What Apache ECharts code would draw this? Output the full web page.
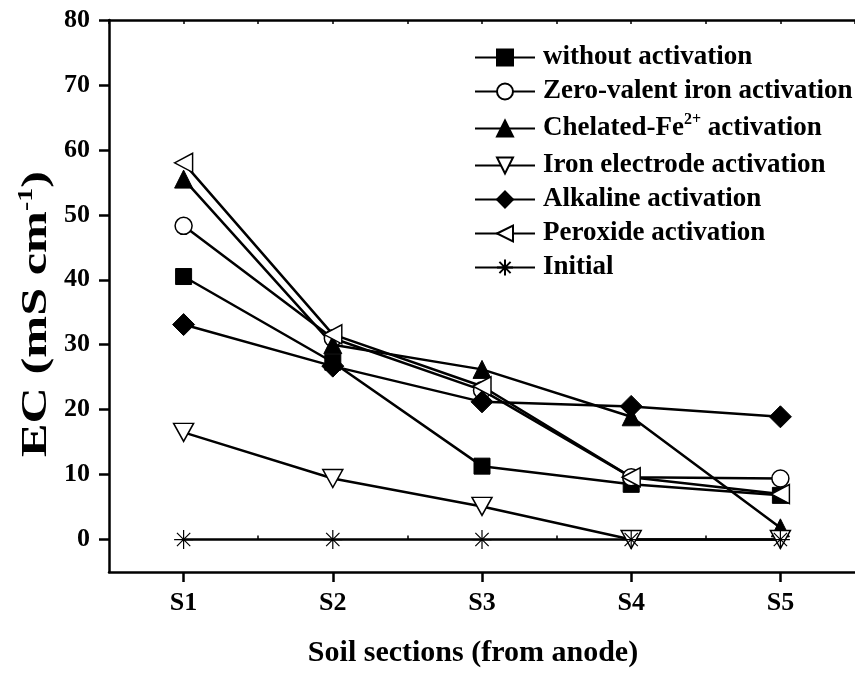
<!DOCTYPE html>
<html>
<head>
<meta charset="utf-8">
<script src="https://cdn.jsdelivr.net/npm/echarts@6/dist/echarts.min.js"></script>
<style>
html,body{margin:0;padding:0;background:#fff;}
#chart{width:855px;height:673px;}
</style>
</head>
<body>
<div id="chart"></div>
<script>
const categories = ['S1', 'S2', 'S3', 'S4', 'S5'];
const yTicks = [0, 10, 20, 30, 40, 50, 60, 70, 80];
const withoutActivation = [40.5, 27.3, 11.3, 8.5, 6.8];
const zeroValent = [48.3, 31.0, 23.0, 9.6, 9.4];
const chelatedFe = [55.5, 30.0, 26.2, 18.9, 1.8];
const ironElectrode = [16.5, 9.4, 5.1, 0.0, 0.0];
const alkaline = [33.1, 26.7, 21.2, 20.5, 18.9];
const peroxide = [58.0, 31.6, 23.6, 9.6, 7.0];
const initial = [0, 0, 0, 0, 0];
const yTitleMain = 'EC (mS cm';
const yTitleSup = '-1';
const yTitleEnd = ')';

const FONT = '"Liberation Serif", "Times New Roman", serif';
const xPos = categories.map((c, i) => i + 1);
const halfPos = [1.5, 2.5, 3.5, 4.5];
const toPairs = arr => arr.map((v, i) => [xPos[i], v]);

const filled = { color: '#000', borderColor: '#000', borderWidth: 1 };
const open = { color: '#fff', borderColor: '#000', borderWidth: 1.5 };
const lineStyle = { color: '#000', width: 2.5 };

const seriesDefs = [
  { name: 'without activation', data: withoutActivation, symbol: 'rect', symbolSize: 16, itemStyle: filled },
  { name: 'Zero-valent iron activation', data: zeroValent, symbol: 'circle', symbolSize: 17, itemStyle: open },
  { name: 'Chelated-Fe2+ activation', data: chelatedFe, symbol: 'triangle', symbolSize: 18, itemStyle: filled },
  { name: 'Iron electrode activation', data: ironElectrode, symbol: 'path://M0,0L20,0L10,18Z', symbolSize: [20, 18], itemStyle: open },
  { name: 'Alkaline activation', data: alkaline, symbol: 'diamond', symbolSize: 22, itemStyle: filled },
  { name: 'Peroxide activation', data: peroxide, symbol: 'path://M0,9L18,0L18,18Z', symbolSize: [18, 19], itemStyle: open },
  { name: 'Initial', data: initial, symbol: 'path://M10,0L10,20M0,10L20,10M3,3L17,17M3,17L17,3', symbolSize: 19, itemStyle: { color: 'none', borderColor: '#000', borderWidth: 1.2 } }
];

// y title: measure natural width so it can be stretched to the span of the reference
const Y_FS = 36, Y_SUP_FS = 20, Y_SPAN = 286;
const mctx = document.createElement('canvas').getContext('2d');
mctx.font = 'bold ' + Y_FS + 'px ' + FONT;
let natW = mctx.measureText(yTitleMain + yTitleEnd).width;
mctx.font = 'bold ' + Y_SUP_FS + 'px ' + FONT;
natW += mctx.measureText(yTitleSup).width;
const yScale = Y_SPAN / natW;

const chart = echarts.init(document.getElementById('chart'), null, { renderer: 'canvas' });

const option = {
  backgroundColor: '#fff',
  animation: false,
  textStyle: { fontFamily: FONT },
  grid: { left: 109, top: 20, width: 754, height: 555 },
  legend: {
    orient: 'vertical',
    left: 474,
    top: 44,
    padding: 0,
    itemWidth: 60,
    itemHeight: 20,
    itemGap: 7,
    data: seriesDefs.map(s => s.name),
    formatter: name => name === 'Chelated-Fe2+ activation' ? '{nc|Chelated-Fe}{sup|2+}{nc| activation}' : '{n|' + name + '}',
    textStyle: {
      fontFamily: FONT, fontWeight: 'bold', fontSize: 27, color: '#000', lineHeight: 27, padding: [0, 0, 0, 3],
      rich: {
        n: { fontFamily: FONT, fontWeight: 'bold', fontSize: 27, color: '#000', lineHeight: 27 },
        nc: { fontFamily: FONT, fontWeight: 'bold', fontSize: 27, color: '#000', lineHeight: 33 },
        sup: { fontFamily: FONT, fontWeight: 'bold', fontSize: 16, color: '#000', lineHeight: 16, verticalAlign: 'top' }
      }
    }
  },
  graphic: [{
    type: 'text',
    x: 37, y: 314,
    rotation: Math.PI / 2,
    scaleX: yScale,
    silent: true,
    style: {
      text: yTitleMain + '{sup|' + yTitleSup + '}' + yTitleEnd,
      fontFamily: FONT, fontWeight: 'bold', fontSize: Y_FS, fill: '#000',
      align: 'center', verticalAlign: 'middle', lineHeight: 40,
      rich: {
        sup: { fontFamily: FONT, fontWeight: 'bold', fontSize: Y_SUP_FS, fill: '#000', lineHeight: 20, verticalAlign: 'top' }
      }
    }
  }],
  xAxis: [
    {
      type: 'value', position: 'bottom', min: 0.5, max: 5.5, interval: 0.5,
      axisLine: { show: true, onZero: false, lineStyle: { color: '#000', width: 2.5 } },
      axisTick: { show: true, customValues: xPos, length: 10, inside: false, lineStyle: { color: '#000', width: 2.5 } },
      axisLabel: {
        customValues: xPos, margin: 18, color: '#000', fontFamily: FONT, fontWeight: 'bold', fontSize: 26,
        formatter: v => categories[Math.round(v) - 1] || ''
      },
      splitLine: { show: false },
      name: 'Soil sections (from anode)', nameLocation: 'middle', nameGap: 66,
      nameTextStyle: { fontFamily: FONT, fontWeight: 'bold', fontSize: 30, color: '#000', padding: [0, 18, 0, 0] }
    },
    {
      type: 'value', position: 'bottom', min: 0.5, max: 5.5, interval: 0.5,
      axisLine: { show: false },
      axisTick: { show: true, customValues: halfPos, length: 4, inside: true, lineStyle: { color: '#000', width: 1.5 } },
      axisLabel: { show: false }, splitLine: { show: false }
    },
    {
      type: 'value', position: 'top', min: 0.5, max: 5.5, interval: 0.5,
      axisLine: { show: true, onZero: false, lineStyle: { color: '#000', width: 2.5 } },
      axisTick: { show: true, inside: true, length: 4, lineStyle: { color: '#000', width: 1.5 } },
      axisLabel: { show: false }, splitLine: { show: false }
    }
  ],
  yAxis: {
    type: 'value', min: -5, max: 80, interval: 5,
    axisLine: { show: true, onZero: false, lineStyle: { color: '#000', width: 2.5 } },
    axisTick: { show: true, customValues: yTicks, length: 10, inside: false, lineStyle: { color: '#000', width: 2.5 } },
    axisLabel: { customValues: yTicks, margin: 19, color: '#000', fontFamily: FONT, fontWeight: 'bold', fontSize: 26 },
    splitLine: { show: false }
  },
  series: seriesDefs.map(s => ({
    name: s.name,
    type: 'line',
    xAxisIndex: 0,
    data: toPairs(s.data),
    symbol: s.symbol,
    symbolSize: s.symbolSize,
    showAllSymbol: true,
    lineStyle: lineStyle,
    itemStyle: s.itemStyle,
    emphasis: { disabled: true }
  }))
};

chart.setOption(option);
</script>
</body>
</html>
